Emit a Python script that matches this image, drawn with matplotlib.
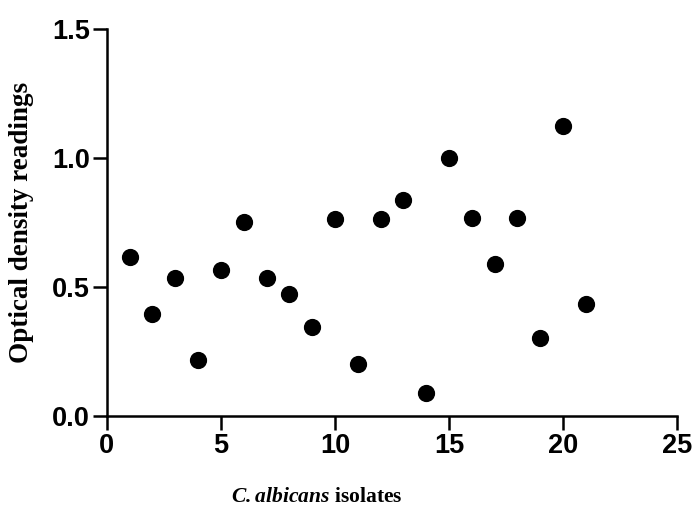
import matplotlib.pyplot as plt

isolates = list(range(1, 22))
od = [0.616, 0.394, 0.536, 0.219, 0.567, 0.751, 0.535, 0.474, 0.345, 0.763,
      0.204, 0.763, 0.838, 0.090, 1.002, 0.768, 0.590, 0.768, 0.304, 1.125, 0.436]

plt.rcParams['mathtext.fontset'] = 'custom'
plt.rcParams['mathtext.bfit'] = 'Liberation Serif:italic:bold'
plt.rcParams['mathtext.rm'] = 'Liberation Serif:bold'

fig = plt.figure(figsize=(6.94, 5.17), dpi=100)
ax = fig.add_axes([0.154, 0.195, 0.8215, 0.749])

ax.scatter(isolates, od, s=130, color='black', zorder=3, clip_on=False)

ax.set_xlim(0, 25)
ax.set_ylim(0, 1.5)
ax.set_xticks([0, 5, 10, 15, 20, 25])
ax.set_yticks([0.0, 0.5, 1.0, 1.5])
ax.set_yticklabels(['0.0', '0.5', '1.0', '1.5'])

for s in ['top', 'right']:
    ax.spines[s].set_visible(False)
for s in ['left', 'bottom']:
    ax.spines[s].set_linewidth(1.8)

ax.tick_params(width=1.8, length=10, direction='out', pad=2)
for lab in ax.get_xticklabels() + ax.get_yticklabels():
    lab.set_fontfamily('Liberation Sans')
    lab.set_fontweight('bold')
    lab.set_fontsize(19.5)

ax.set_ylabel('Optical density readings', fontfamily='Liberation Serif',
              fontweight='bold', fontsize=19.5)
ax.yaxis.set_label_coords(-0.128, 0.5)
ax.set_xlabel(r'$\mathbfit{C.albicans}$ isolates', fontfamily='Liberation Serif',
              fontweight='bold', fontsize=15.5)
ax.xaxis.set_label_coords(0.368, -0.183)

fig.savefig('out.png', dpi=100)
